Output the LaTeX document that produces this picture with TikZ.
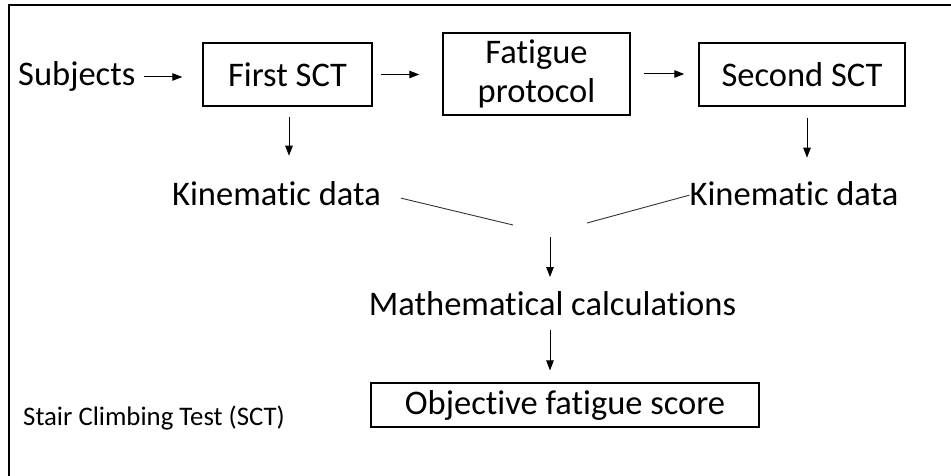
\documentclass[tikz,border=0pt]{standalone}
\usepackage{fontspec}
\setmainfont{Carlito}[Ligatures=NoCommon]
\usetikzlibrary{arrows.meta}
\begin{document}
\begin{tikzpicture}[x=1pt,y=-1pt,
  txt/.style={inner sep=0pt, font=\fontsize{34.5}{40}\selectfont},
  boxnode/.style={draw, line width=1.4pt, inner sep=0pt, align=center, font=\fontsize{34.5}{39}\selectfont},
  arr/.style={line width=1pt, -{Triangle[length=10pt,width=7.5pt]}},
  link/.style={line width=0.9pt, draw=black!80}
]
\useasboundingbox (0,0) rectangle (951,476);
\draw[line width=2pt] (9,476) -- (9,5) -- (951,5);

\node[txt, anchor=base west] (subj) at (18,86) {Subjects};
\node[boxnode, minimum width=169pt, minimum height=63pt] (first) at (287.5,74.5) {First SCT};
\node[boxnode, minimum width=187pt, minimum height=82pt] (fat) at (536.5,74) {Fatigue\\protocol};
\node[boxnode, minimum width=206pt, minimum height=63pt] (second) at (802,74.5) {Second SCT};

\node[txt, anchor=base] (kin1) at (276.5,205) {Kinematic data};
\node[txt, anchor=base] (kin2) at (794,205) {Kinematic data};
\node[txt, anchor=base] (math) at (552.5,315) {Mathematical calculations};
\node[boxnode, minimum width=388pt, minimum height=44pt] (obj) at (565,405) {Objective fatigue score};
\node[inner sep=0pt, anchor=base west, font=\fontsize{26.8}{30}\selectfont] (sct) at (23,425) {Stair Climbing Test (SCT)};

\coordinate (j1) at (513,225);
\coordinate (j2) at (587,223);

\draw[arr, shorten <=8pt] (subj.east) -- ([xshift=-20pt]subj.east -| first.west);
\draw[arr, shorten <=8pt] (first.east) -- ([xshift=-23pt]first.east -| fat.west);
\draw[arr, shorten <=13pt] (fat.east) -- ([xshift=-14pt]fat.east -| second.west);

\draw[arr] ([xshift=1.5pt,yshift=-10pt]first.south) -- ++(0,39);
\draw[arr] ([xshift=5pt,yshift=-11pt]second.south) -- ++(0,40);

\draw[link] ([xshift=20pt,yshift=-5pt]kin1.east) -- (j1);
\draw[link] (j2) -- ([xshift=0pt,yshift=-2pt]kin2.west);

\draw[arr] ([yshift=-12pt]j1 -| math.north) ++(-2.5,0) -- ++(0,40);
\draw[arr] ([xshift=-2.5pt,yshift=-15pt]math.south) -- ++(0,40);
\end{tikzpicture}
\end{document}
